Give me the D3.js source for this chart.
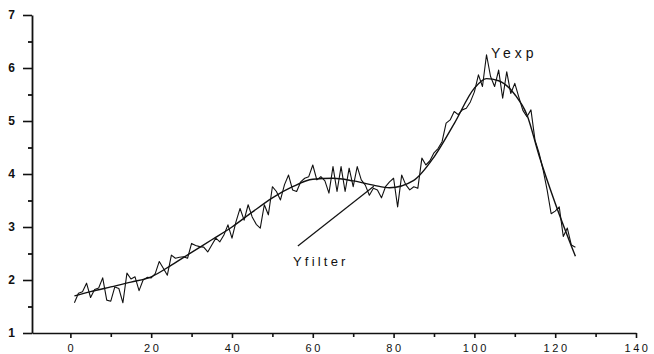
<!DOCTYPE html>
<html>
<head>
<meta charset="utf-8">
<script src="https://cdn.jsdelivr.net/npm/d3@7"></script>
<style>
  body { margin: 0; background: #fff; }
  svg { display: block; font-family: "Liberation Sans", Arial, sans-serif; }
  .axis path, .axis line { stroke: #111; }
  .axis text { fill: #111; }
</style>
</head>
<body>
<div id="chart"></div>
<script>
// experimental signal, one point per x
const EXP_X = d3.range(1, 126);
const EXP_Y = [1.57, 1.75, 1.78, 1.94, 1.67, 1.82, 1.85, 2.04, 1.62, 1.60,
               1.87, 1.84, 1.57, 2.13, 2.02, 2.06, 1.80, 2.00, 2.05, 2.04,
               2.12, 2.35, 2.22, 2.09, 2.47, 2.41, 2.43, 2.44, 2.41, 2.69,
               2.65, 2.63, 2.62, 2.53, 2.66, 2.79, 2.72, 2.85, 3.04, 2.79,
               3.10, 3.35, 3.13, 3.42, 3.19, 3.05, 2.98, 3.42, 3.23, 3.76,
               3.67, 3.51, 3.80, 3.98, 3.70, 3.67, 3.85, 3.92, 3.95, 4.17,
               3.89, 3.95, 3.87, 3.64, 4.14, 3.67, 4.14, 3.67, 4.11, 3.76,
               4.14, 3.89, 3.79, 3.60, 3.73, 3.70, 3.55, 3.76, 3.85, 3.92,
               3.38, 3.98, 3.80, 3.70, 3.76, 3.73, 4.30, 4.17, 4.25, 4.40,
               4.48, 4.61, 4.96, 5.02, 5.18, 5.12, 5.21, 5.24, 5.36, 5.55,
               5.87, 5.65, 6.25, 5.84, 5.65, 5.96, 5.43, 5.93, 5.52, 5.71,
               5.45, 5.20, 5.08, 5.21, 4.64, 4.40, 4.08, 3.70, 3.25, 3.30,
               3.38, 2.82, 2.98, 2.66, 2.62];

// filtered (smooth) curve
const FILTER_X = [1, 5, 10, 15, 20, 25, 30, 35, 40, 45, 50, 55, 60, 65, 70, 75, 79,
                  85, 90, 95, 100, 103, 106, 110, 113, 116, 120, 125];
const FILTER_Y = [1.70, 1.78, 1.87, 1.96, 2.06, 2.28, 2.52, 2.76, 3.00, 3.28, 3.55,
                  3.76, 3.90, 3.92, 3.87, 3.79, 3.74, 3.88, 4.32, 4.95, 5.62, 5.80,
                  5.76, 5.50, 5.12, 4.35, 3.45, 2.45];

const X_TICKS = [0, 20, 40, 60, 80, 100, 120, 140];
const X_MINOR = [10, 30, 50, 70, 90, 110, 130];
const Y_TICKS = [1, 2, 3, 4, 5, 6, 7];
const Y_MINOR = [1.5, 2.5, 3.5, 4.5, 5.5, 6.5];

const FRAME_WIDTH = 654;
const FRAME_HEIGHT = 354;

const X_SCALE = d3.scaleLinear().domain([-9.5, 140]).range([32, 636]);
const Y_SCALE = d3.scaleLinear().domain([1, 7]).range([333, 15]);

const svg = d3.select("#chart")
  .append("svg")
    .attr("width", FRAME_WIDTH)
    .attr("height", FRAME_HEIGHT);

// x axis
svg.append("g")
    .attr("class", "axis")
    .attr("transform", "translate(0," + Y_SCALE(1) + ")")
    .call(d3.axisBottom(X_SCALE).tickValues(X_MINOR).tickSize(4).tickSizeOuter(0).tickFormat(""))
    .call(g => g.selectAll("path, line").attr("stroke-width", 1.6));

svg.append("g")
    .attr("class", "axis")
    .attr("transform", "translate(0," + Y_SCALE(1) + ")")
    .call(d3.axisBottom(X_SCALE).tickValues(X_TICKS).tickSize(5).tickSizeOuter(0).tickPadding(6))
    .call(g => g.select(".domain").remove())
    .call(g => g.selectAll("line").attr("stroke-width", 1.6))
    .call(g => g.selectAll("text")
      .attr("font-size", "11px")
      .attr("letter-spacing", "2.6px")
      .attr("dx", "1px"));

// y axis
svg.append("g")
    .attr("class", "axis")
    .attr("transform", "translate(" + X_SCALE(-9.5) + ",0)")
    .call(d3.axisLeft(Y_SCALE).tickValues(Y_MINOR).tickSize(4).tickSizeOuter(0).tickFormat(""))
    .call(g => g.selectAll("path, line").attr("stroke-width", 1.8));

svg.append("g")
    .attr("class", "axis")
    .attr("transform", "translate(" + X_SCALE(-9.5) + ",0)")
    .call(d3.axisLeft(Y_SCALE).tickValues(Y_TICKS).tickSize(9).tickPadding(8).tickFormat(d3.format("d")))
    .call(g => g.select(".domain").remove())
    .call(g => g.selectAll("line").attr("stroke-width", 1.6))
    .call(g => g.selectAll("text")
      .attr("font-size", "12px")
      .attr("font-weight", "bold"));

// experimental line
const expLine = d3.line()
  .x((d, i) => X_SCALE(EXP_X[i]))
  .y((d) => Y_SCALE(d));

svg.append("path")
    .datum(EXP_Y)
    .attr("d", expLine)
    .attr("fill", "none")
    .attr("stroke", "#111")
    .attr("stroke-width", 1.1)
    .attr("stroke-linejoin", "round");

// filtered line
const filterLine = d3.line()
  .x((d, i) => X_SCALE(FILTER_X[i]))
  .y((d) => Y_SCALE(d))
  .curve(d3.curveMonotoneX);

svg.append("path")
    .datum(FILTER_Y)
    .attr("d", filterLine)
    .attr("fill", "none")
    .attr("stroke", "#111")
    .attr("stroke-width", 1.4);

// labels
svg.append("text")
    .attr("x", X_SCALE(104.1))
    .attr("y", Y_SCALE(6.19))
    .attr("font-size", "14px")
    .attr("letter-spacing", "4px")
    .attr("fill", "#111")
    .text("Yexp");

svg.append("line")
    .attr("x1", X_SCALE(56.3)).attr("y1", Y_SCALE(2.64))
    .attr("x2", X_SCALE(75.1)).attr("y2", Y_SCALE(3.77))
    .attr("stroke", "#111")
    .attr("stroke-width", 1.2);

svg.append("text")
    .attr("x", X_SCALE(55.1))
    .attr("y", Y_SCALE(2.26))
    .attr("font-size", "13px")
    .attr("letter-spacing", "3.2px")
    .attr("fill", "#111")
    .text("Yfilter");
</script>
</body>
</html>
